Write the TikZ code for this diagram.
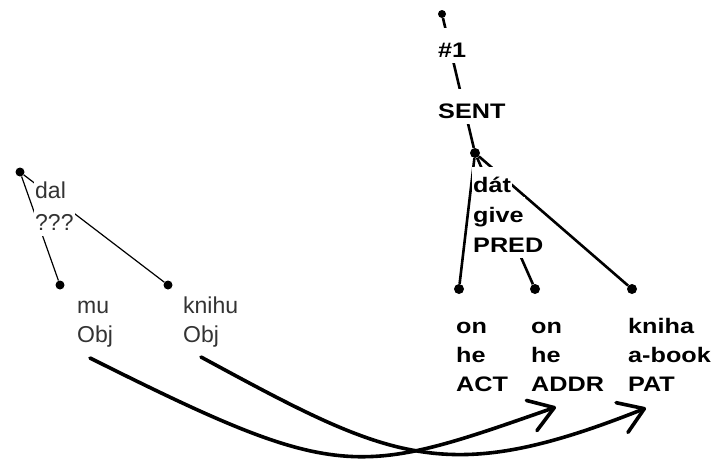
\documentclass[tikz,border=0pt]{standalone}
\usepackage{fontspec}
\setmainfont{Liberation Sans}
\newfontfamily\rfont[FakeStretch=1.2]{Liberation Sans Bold}
\usetikzlibrary{arrows.meta}
\tikzset{
  dotL/.style={circle, fill=black, inner sep=0pt, minimum size=9pt},
  dotR/.style={circle, fill=black, inner sep=0pt, minimum size=10pt},
  edgeL/.style={draw=black, line width=1.2pt},
  edgeR/.style={draw=black, line width=2.6pt},
  lblL/.style={anchor=base west, align=left, inner sep=1pt, text=black!80,
    font=\fontsize{23}{29}\selectfont},
  rowL/.style={lblL, fill=white, text height=25pt, text depth=5pt},
  lblR/.style={anchor=base west, align=left, inner sep=1pt, text=black,
    font=\rfont\fontsize{21}{29}\selectfont},
  rowR/.style={lblR, fill=white, text height=24pt, text depth=4.5pt},
  mapping/.style={line width=3.6pt, line cap=round,
    -{Straight Barb[length=24pt, width=32pt, line width=3.6pt, round]}},
}
\begin{document}
\begin{tikzpicture}[x=1pt, y=-1pt]
\useasboundingbox (0,0) rectangle (715,459);
% ---------- left tree ----------
\node[dotL] (l0) at (20,172) {};
\node[dotL] (lmu) at (60,285) {};
\node[dotL] (lkn) at (168,285) {};
\draw[edgeL] (l0) -- (lmu);
\draw[edgeL] (l0) -- (lkn);
\node[rowL] (tdal) at (34,198) {dal};
\node[rowL] (tq) at (34,230) {???};
\node[lblL] (tmu) at (76,342) {mu\\Obj};
\node[lblL] (tkn) at (182,342) {knihu\\Obj};
% ---------- right tree ----------
\node[dotR, minimum size=8pt] (r0) at (442,14) {};
\node[dotR] (rpred) at (475,153) {};
\node[dotR] (ract) at (459,289) {};
\node[dotR] (raddr) at (535,289) {};
\node[dotR] (rpat) at (632,289) {};
\draw[edgeR] (r0) -- (rpred);
\draw[edgeR] (rpred) -- (ract);
\draw[edgeR] (rpred) -- (raddr);
\draw[edgeR] (rpred) -- (rpat);
\node[rowR, text height=28pt] (t1) at (437,57) {\#1};
\node[rowR, text height=28pt] (tsent) at (437,118) {SENT};
\node[rowR] (tdat) at (472,192) {dát};
\node[rowR] (tgive) at (472,222) {give};
\node[rowR] (tpred) at (472,252) {PRED};
\node[lblR] (tact) at (455,391) {on\\he\\ACT};
\node[lblR] (taddr) at (530,391) {on\\he\\ADDR};
\node[lblR] (tpat) at (627,391) {kniha\\a-book\\PAT};
% ---------- mapping arrows ----------
\coordinate (s1) at (90,358);
\coordinate (e1) at (556,407);
\coordinate (s2) at (201,357);
\coordinate (e2) at (646,408);
\draw[mapping] (s1) .. controls (340,483) and (356,477) .. (e1);
\draw[mapping] (s2) .. controls (391,460) and (445,488) .. (e2);
\end{tikzpicture}
\end{document}
